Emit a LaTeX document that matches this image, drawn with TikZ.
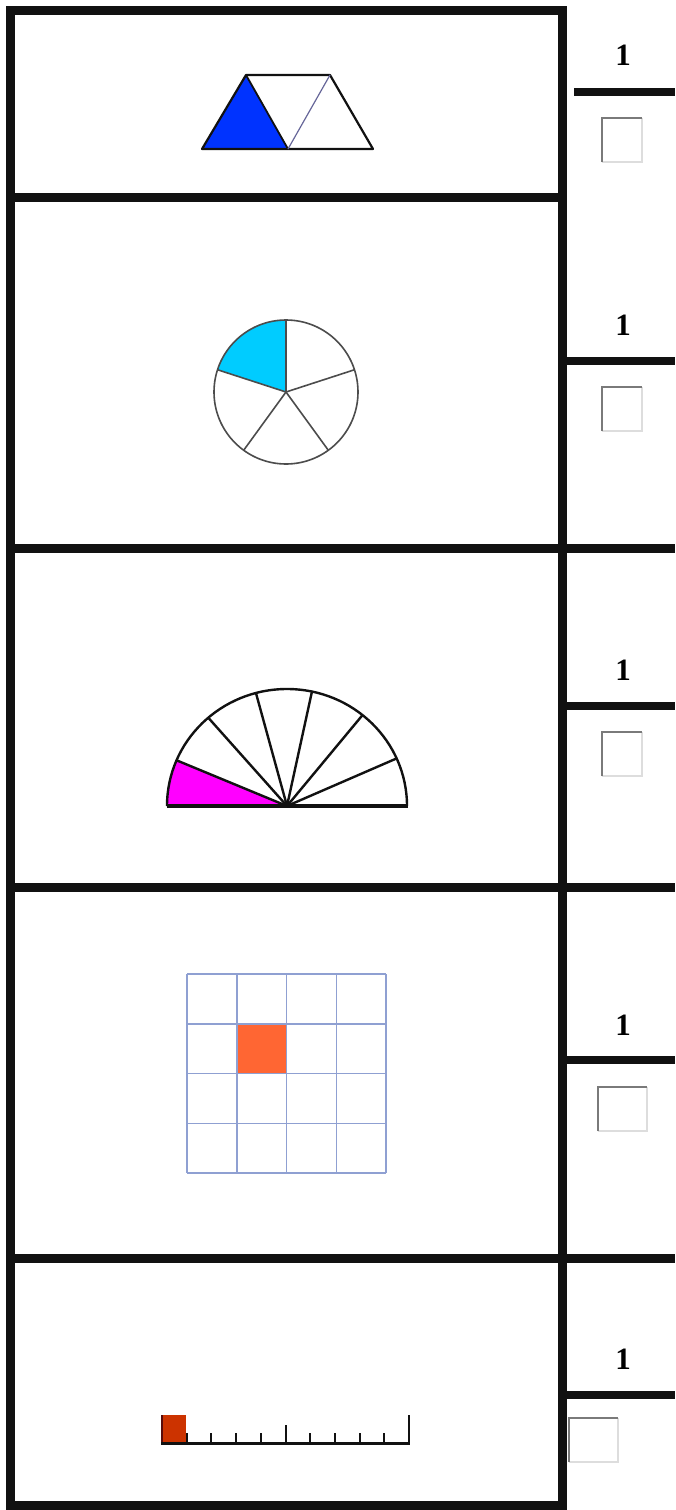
\documentclass[tikz,border=0pt]{standalone}
\usepackage{fontspec}
\setmainfont{Liberation Serif}
\definecolor{frame}{HTML}{111111}
\definecolor{tripblue}{HTML}{0033FF}
\definecolor{piecyan}{HTML}{00CCFF}
\definecolor{fanmag}{HTML}{FF00FF}
\definecolor{gridline}{HTML}{8FA0D2}
\definecolor{cellorange}{HTML}{FF6633}
\definecolor{rulerred}{HTML}{CC3300}
\definecolor{boxdark}{HTML}{7A7A7A}
\definecolor{boxlight}{HTML}{DDDDDD}
\tikzset{
  framerule/.style={line width=9pt, draw=frame},
  fracbar/.style={line width=8pt, draw=frame},
  numlabel/.style={font=\fontsize{31}{31}\selectfont\bfseries, inner sep=0pt, text=black},
  shapeline/.style={draw=frame, line width=2.2pt, line join=round},
}
\newcommand{\ansbox}[5]{% name, x1,y1,x2,y2
  \coordinate (#1) at ({(#2+#4)/2},{(#3+#5)/2});
  \draw[boxlight, line width=2pt] (#2,#5) -- (#4,#5) -- (#4,#3);
  \draw[boxdark, line width=2pt] (#2,#5) -- (#2,#3) -- (#4,#3);
}
\begin{document}
\begin{tikzpicture}[x=1pt,y=-1pt]
\useasboundingbox (0,0) rectangle (675,1510);
\fill[white] (0,0) rectangle (675,1510);

% ---------- frame ----------
\draw[framerule] (10.5,10.5) rectangle (562,1505.5);
\draw[framerule] (6,197.5) -- (562,197.5);
\draw[framerule] (6,548.5) -- (675,548.5);
\draw[framerule] (6,887) -- (675,887);
\draw[framerule] (6,1258.5) -- (675,1258.5);

% ---------- row 1: trapezoid ----------
\coordinate (tA) at (202,149);
\coordinate (tB) at (246,75);
\coordinate (tC) at (330,75);
\coordinate (tD) at (373,149);
\coordinate (tM) at (288,149);
\fill[tripblue] (tA) -- (tB) -- (tM) -- cycle;
\draw[shapeline] (tA) -- (tB) -- (tC) -- (tD) -- cycle;
\draw[frame, line width=1.8pt] (tB) -- (tM);
\draw[gray!80!blue, line width=1.2pt] (tM) -- (tC);

% ---------- row 2: pie of five ----------
\coordinate (pc) at (286,392);
\fill[piecyan] (pc) -- ++(-90:72) arc[start angle=-90, end angle=-162, radius=72] -- cycle;
\draw[gray!60!black, line width=1.6pt] (pc) circle[radius=72];
\foreach \a in {90,18,-54,-126,162}
  \draw[gray!60!black, line width=1.6pt] (pc) -- ++(-\a:72);

% ---------- row 3: semicircle of seven ----------
\coordinate (sc) at (287,806);
\fill[fanmag] (sc) -- (167,806) arc[start angle=-180, end angle=-157, x radius=120, y radius=117] -- cycle;
\draw[frame, line width=2.4pt] (167,806) arc[start angle=-180, end angle=0, x radius=120, y radius=117];
\foreach \a in {157,131,105,78,51,24}
  \draw[frame, line width=2.4pt] (sc) -- ({287+120*cos(\a)},{806-117*sin(\a)});
\draw[frame, line width=4pt] (167,806) -- (408,806);

% ---------- row 4: grid ----------
\fill[cellorange] (237,1024) rectangle (286.5,1073.5);
\foreach \i in {0,...,4} {
  \draw[gridline, line width=1.5pt] ({187+\i*49.75},974) -- ({187+\i*49.75},1173);
  \draw[gridline, line width=1.5pt] (187,{974+\i*49.75}) -- (386,{974+\i*49.75});
}

% ---------- row 5: ruler ----------
\fill[rulerred] (162,1415) rectangle (186,1443);
\draw[frame!70!red, line width=2.5pt] (162,1415) -- (162,1443);
\draw[frame, line width=3pt] (161,1443) -- (410,1443);
\draw[frame, line width=2.5pt] (409,1443) -- (409,1415);
\foreach \k in {1,2,3,4,6,7,8,9}
  \draw[frame, line width=2pt] ({162+\k*24.7},1443) -- ({162+\k*24.7},1433);
\draw[frame, line width=2pt] (285.5,1443) -- (285.5,1425);

% ---------- right column: fractions ----------
\node[numlabel] (n1) at (623,55) {1};
\draw[fracbar] (574,92) -- (675,92);
\ansbox{b1}{602}{118}{642}{162}

\node[numlabel] (n2) at (623,325) {1};
\draw[fracbar] (567,360.5) -- (675,360.5);
\ansbox{b2}{602}{387}{642}{431}

\node[numlabel] (n3) at (623,670) {1};
\draw[fracbar] (567,706) -- (675,706);
\ansbox{b3}{602}{732}{642}{776}

\node[numlabel] (n4) at (623,1025) {1};
\draw[fracbar] (567,1060) -- (675,1060);
\ansbox{b4}{598}{1087}{647}{1131}

\node[numlabel] (n5) at (623,1359) {1};
\draw[fracbar] (567,1395) -- (675,1395);
\ansbox{b5}{569}{1418}{618}{1462}
\end{tikzpicture}
\end{document}
